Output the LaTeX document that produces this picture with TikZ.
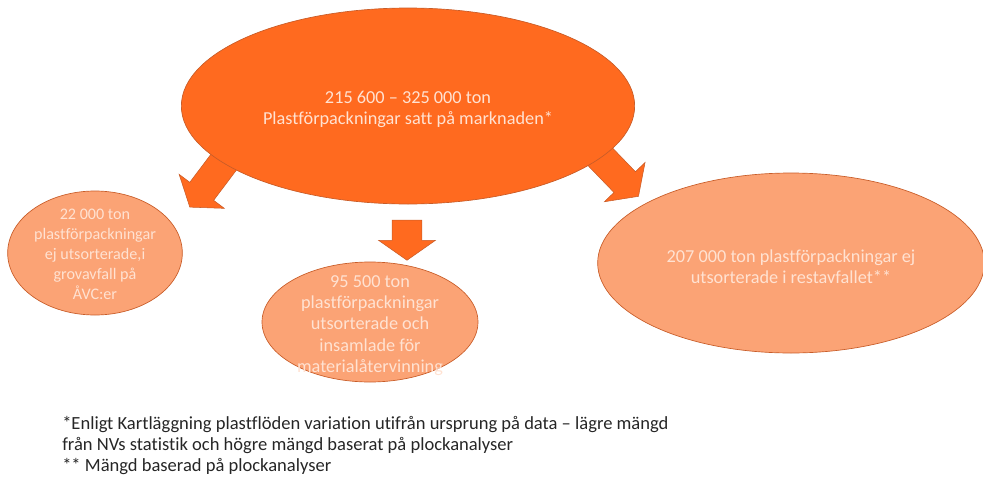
\documentclass[tikz,border=0pt]{standalone}
\usepackage{fontspec}
\setmainfont{Carlito}[Ligatures=NoCommon]
\usetikzlibrary{positioning}
\usetikzlibrary{shapes.geometric}
\usetikzlibrary{shapes.arrows}
\definecolor{hotorange}{RGB}{255,106,31}
\definecolor{softorange}{RGB}{251,163,117}
\definecolor{rimorange}{RGB}{200,92,40}
\definecolor{blobtext}{RGB}{255,226,210}
\tikzset{
    blob/.style={ellipse, draw=rimorange, line width=0.5pt, inner sep=0pt},
    bigblob/.style={blob, fill=hotorange},
    smallblob/.style={blob, fill=softorange},
    blobtxt/.style={text=blobtext, align=center, inner sep=0pt, yshift=-2.5pt},
    flowarrow/.style={single arrow, draw=rimorange, line width=0.4pt, fill=hotorange,
        inner xsep=0pt, inner ysep=11pt, single arrow head extend=10pt,
        single arrow tip angle=110},
}

\begin{document}
\begin{tikzpicture}[x=0.75pt, y=-0.75pt]
    \useasboundingbox (0,0) rectangle (983,479);

    \node [flowarrow, minimum height=45pt, rotate=233] (leftflow) at (211,179) {};
    \node [flowarrow, minimum height=30pt, rotate=-90] (midflow) at (407,235) {};
    \node [flowarrow, minimum height=45pt, rotate=-46] (rightflow) at (614,171) {};

    \node [bigblob, minimum width=340pt, minimum height=147pt,
        label={[blobtxt, font=\fontsize{13.7}{15.75}\selectfont]center:215 600 -- 325 000 ton\\Plastförpackningar satt på marknaden*}] (market) at (408,106) {};

    \node [smallblob, minimum width=131pt, minimum height=93pt,
        label={[blobtxt, yshift=1.5pt, font=\fontsize{12.1}{15}\selectfont]center:22 000 ton\\plastförpackningar\\ej utsorterade,i\\grovavfall på\\ÅVC:er}] (bulky) at (95,253) {};

    \node [smallblob, minimum width=162pt, minimum height=90pt,
        label={[blobtxt, font=\fontsize{13.7}{16}\selectfont]center:95 500 ton\\plastförpackningar\\utsorterade och\\insamlade för\\materialåtervinning}] (sorted) at (370,322) {};

    \node [smallblob, minimum width=290pt, minimum height=135pt,
        label={[blobtxt, font=\fontsize{13.7}{15.75}\selectfont]center:207 000 ton plastförpackningar ej\\utsorterade i restavfallet**}] (residual) at (791,263) {};

    \node [anchor=north west, align=left, inner sep=0pt, text=black!85,
        font=\fontsize{13.9}{15.75}\selectfont] (notes) at (62,416)
        {*Enligt Kartläggning plastflöden variation utifrån ursprung på data -- lägre mängd\\
         från NVs statistik och högre mängd baserat på plockanalyser\\
         ** Mängd baserad på plockanalyser};
\end{tikzpicture}
\end{document}
